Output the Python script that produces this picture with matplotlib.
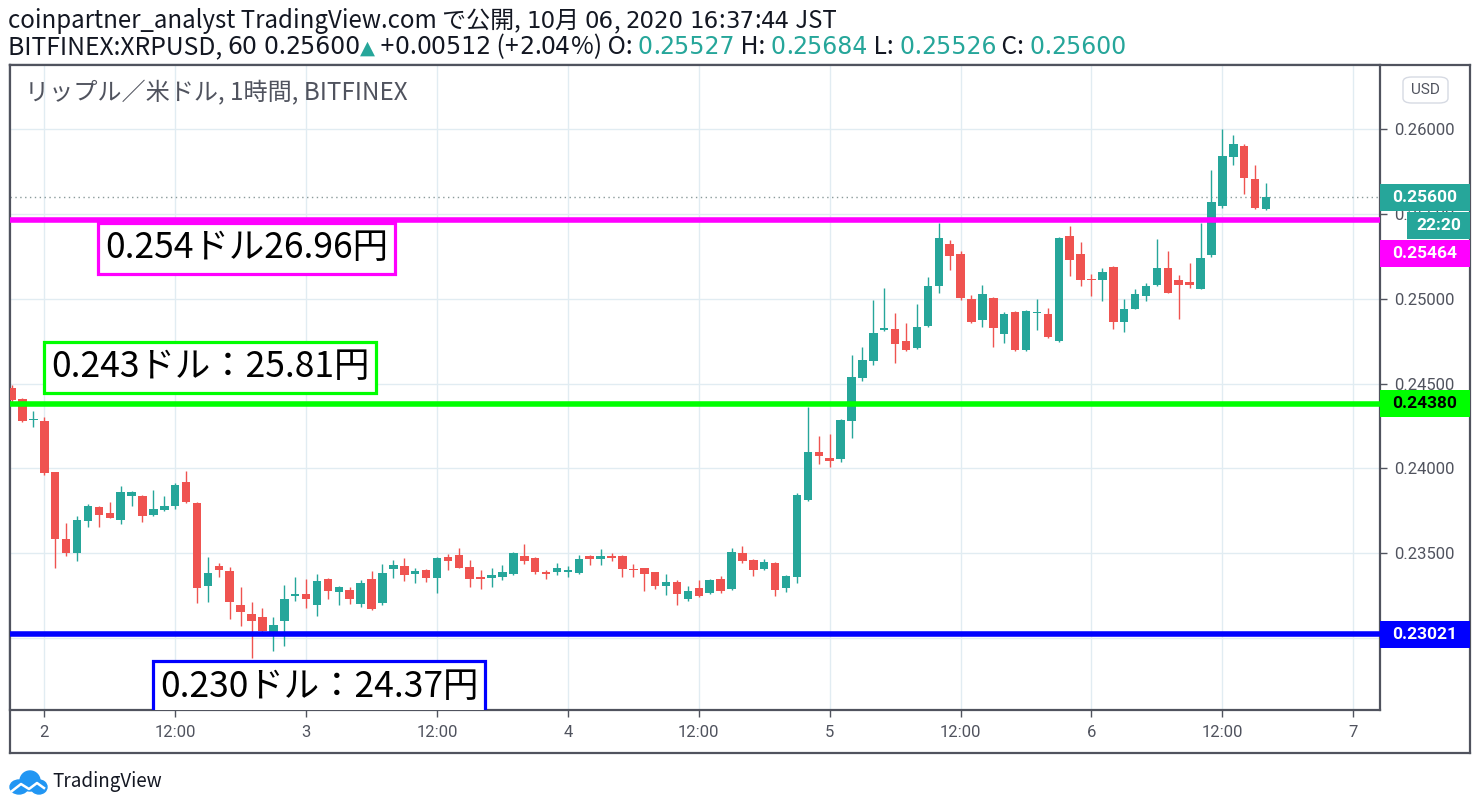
import re
import matplotlib
matplotlib.use("Agg")
import matplotlib.pyplot as plt
import matplotlib.transforms as mtransforms
from matplotlib.patches import Rectangle, FancyBboxPatch, Ellipse
import numpy as np

plt.rcParams['font.family'] = ['Noto Sans CJK JP', 'DejaVu Sans']

W, H = 1481, 809

# hourly candles, hours counted from Oct 2 00:00 JST (first one is Oct 1 21:00)
hours = list(range(-3, 113))
opens = [0.24475, 0.24410, 0.24285, 0.24280, 0.23978, 0.23582, 0.23499, 0.23688, 0.23771, 0.23736,
         0.23694, 0.23836, 0.23836, 0.23724, 0.23754, 0.23777, 0.23919, 0.23795, 0.23306, 0.23424,
         0.23394, 0.23193, 0.23140, 0.23122, 0.23028, 0.23099, 0.23246, 0.23258, 0.23193, 0.23347,
         0.23270, 0.23282, 0.23199, 0.23347, 0.23205, 0.23406, 0.23424, 0.23376, 0.23400, 0.23353,
         0.23477, 0.23489, 0.23418, 0.23359, 0.23353, 0.23359, 0.23376, 0.23483, 0.23471, 0.23388,
         0.23388, 0.23388, 0.23382, 0.23483, 0.23465, 0.23483, 0.23483, 0.23406, 0.23412, 0.23388,
         0.23306, 0.23329, 0.23229, 0.23294, 0.23264, 0.23347, 0.23288, 0.23501, 0.23459, 0.23406,
         0.23441, 0.23294, 0.23359, 0.23813, 0.24096, 0.24061, 0.24055, 0.24280, 0.24533, 0.24634,
         0.24817, 0.24823, 0.24752, 0.24710, 0.24840, 0.25077, 0.25325, 0.25266, 0.25000, 0.24876,
         0.25006, 0.24793, 0.24923, 0.24699, 0.24917, 0.24911, 0.24752, 0.25372, 0.25266, 0.25118,
         0.25112, 0.25189, 0.24864, 0.24941, 0.25018, 0.25083, 0.25183, 0.25112, 0.25100, 0.25059,
         0.25261, 0.25545, 0.25835, 0.25900, 0.25704, 0.25527]
highs = [0.24492, 0.24416, 0.24339, 0.24303, 0.23978, 0.23677, 0.23718, 0.23789, 0.23775, 0.23801,
         0.23895, 0.23866, 0.23840, 0.23872, 0.23836, 0.23913, 0.23984, 0.23800, 0.23477, 0.23441,
         0.23418, 0.23300, 0.23211, 0.23176, 0.23122, 0.23311, 0.23359, 0.23347, 0.23376, 0.23350,
         0.23306, 0.23300, 0.23341, 0.23394, 0.23436, 0.23459, 0.23471, 0.23412, 0.23403, 0.23477,
         0.23495, 0.23530, 0.23459, 0.23400, 0.23412, 0.23430, 0.23507, 0.23554, 0.23474, 0.23400,
         0.23441, 0.23424, 0.23489, 0.23486, 0.23524, 0.23501, 0.23486, 0.23436, 0.23414, 0.23390,
         0.23376, 0.23341, 0.23306, 0.23341, 0.23347, 0.23365, 0.23530, 0.23542, 0.23462, 0.23465,
         0.23444, 0.23371, 0.23854, 0.24362, 0.24191, 0.24203, 0.24291, 0.24669, 0.24716, 0.24994,
         0.25065, 0.24917, 0.24858, 0.24970, 0.25130, 0.25449, 0.25349, 0.25284, 0.25024, 0.25083,
         0.25012, 0.24923, 0.24929, 0.24935, 0.25000, 0.24947, 0.25366, 0.25431, 0.25337, 0.25148,
         0.25183, 0.25192, 0.25000, 0.25059, 0.25095, 0.25355, 0.25284, 0.25142, 0.25213, 0.25449,
         0.25758, 0.26000, 0.25965, 0.25911, 0.25787, 0.25684]
lows = [0.24392, 0.24274, 0.24244, 0.23960, 0.23412, 0.23482, 0.23452, 0.23653, 0.23653, 0.23706,
        0.23671, 0.23777, 0.23683, 0.23718, 0.23750, 0.23759, 0.23795, 0.23205, 0.23211, 0.23359,
        0.23111, 0.23069, 0.22880, 0.23016, 0.22921, 0.22951, 0.23217, 0.23176, 0.23128, 0.23229,
        0.23193, 0.23199, 0.23181, 0.23165, 0.23193, 0.23353, 0.23335, 0.23323, 0.23329, 0.23264,
        0.23400, 0.23410, 0.23300, 0.23288, 0.23300, 0.23341, 0.23373, 0.23436, 0.23376, 0.23347,
        0.23371, 0.23359, 0.23376, 0.23430, 0.23430, 0.23453, 0.23359, 0.23359, 0.23276, 0.23288,
        0.23252, 0.23193, 0.23217, 0.23240, 0.23258, 0.23264, 0.23282, 0.23441, 0.23365, 0.23400,
        0.23246, 0.23270, 0.23323, 0.23807, 0.24025, 0.24008, 0.24037, 0.24179, 0.24515, 0.24610,
        0.24811, 0.24622, 0.24693, 0.24704, 0.24835, 0.25035, 0.25171, 0.24994, 0.24858, 0.24835,
        0.24716, 0.24740, 0.24693, 0.24693, 0.24817, 0.24770, 0.24746, 0.25136, 0.25077, 0.25018,
        0.24988, 0.24823, 0.24805, 0.24938, 0.24988, 0.25077, 0.25032, 0.24882, 0.25065, 0.25056,
        0.25249, 0.25533, 0.25787, 0.25616, 0.25530, 0.25526]
closes = [0.24404, 0.24280, 0.24291, 0.23972, 0.23582, 0.23499, 0.23694, 0.23777, 0.23724, 0.23706,
          0.23860, 0.23860, 0.23718, 0.23759, 0.23777, 0.23901, 0.23801, 0.23294, 0.23382, 0.23400,
          0.23211, 0.23152, 0.23099, 0.23040, 0.23075, 0.23229, 0.23258, 0.23229, 0.23335, 0.23276,
          0.23300, 0.23229, 0.23323, 0.23170, 0.23382, 0.23430, 0.23371, 0.23394, 0.23353, 0.23471,
          0.23453, 0.23412, 0.23347, 0.23347, 0.23371, 0.23388, 0.23501, 0.23453, 0.23388, 0.23376,
          0.23412, 0.23400, 0.23465, 0.23465, 0.23483, 0.23471, 0.23406, 0.23400, 0.23376, 0.23306,
          0.23329, 0.23258, 0.23276, 0.23246, 0.23341, 0.23276, 0.23507, 0.23453, 0.23400, 0.23447,
          0.23282, 0.23365, 0.23842, 0.24096, 0.24073, 0.24043, 0.24285, 0.24540, 0.24639, 0.24799,
          0.24829, 0.24734, 0.24699, 0.24835, 0.25077, 0.25361, 0.25254, 0.25006, 0.24864, 0.25030,
          0.24829, 0.24911, 0.24699, 0.24929, 0.24923, 0.24775, 0.25361, 0.25231, 0.25112, 0.25112,
          0.25160, 0.24864, 0.24941, 0.25030, 0.25077, 0.25183, 0.25035, 0.25083, 0.25083, 0.25242,
          0.25574, 0.25840, 0.25911, 0.25710, 0.25533, 0.25600]

level_prices = [0.25464, 0.24380, 0.23021]
level_colors = ['#ff00ff', '#00ff00', '#0000ff']
level_text_colors = ['white', 'black', 'white']
level_notes = ['0.254ドル26.96円', '0.243ドル：25.81円', '0.230ドル：24.37円']
last_price = 0.25600
countdown = '22:20'

time_ticks = [0, 12, 24, 36, 48, 60, 72, 84, 96, 108, 120]
time_labels = ['2', '12:00', '3', '12:00', '4', '12:00', '5', '12:00', '6', '12:00', '7']
price_ticks = [0.230, 0.235, 0.240, 0.245, 0.250, 0.255, 0.260]

UP, DOWN = '#26a69a', '#ef5350'
AXC = '#50535e'
GRID = '#e1ecf2'
INK = '#131722'


def pxbox(x0, y0, x1, y1):
    return [x0 / W, 1 - y1 / H, (x1 - x0) / W, (y1 - y0) / H]


fig = plt.figure(figsize=(W / 100, H / 100), dpi=100)
fig.patch.set_facecolor('white')

# outer frame (price scale + time scale)
frame = fig.add_axes(pxbox(10, 65, 1470, 753))
frame.set_xticks([])
frame.set_yticks([])
for sp in frame.spines.values():
    sp.set_color(AXC)
    sp.set_linewidth(1.6)

ax = fig.add_axes(pxbox(10, 65, 1380, 710))
ax.set_xlim(-3.145, 122.45)
ax.set_ylim(0.225737, 0.263794)
for sp in ax.spines.values():
    sp.set_color(AXC)
    sp.set_linewidth(1.6)

ax.set_xticks(time_ticks)
ax.set_xticklabels(time_labels)
ax.set_yticks(price_ticks)
# the 0.23000 label sits under the blue price tag, so it is left blank
ax.set_yticklabels(['' if p == 0.230 else '%.5f' % p for p in price_ticks])
ax.yaxis.tick_right()
ax.tick_params(axis='both', direction='out', length=5, width=1, color=AXC,
               labelcolor=AXC, labelsize=12)
ax.tick_params(axis='x', pad=6)
ax.tick_params(axis='y', pad=5)
for lab in ax.get_xticklabels() + ax.get_yticklabels():
    lab.set_fontfamily('Roboto')
ax.grid(True, color=GRID, linewidth=1)
ax.set_axisbelow(True)

# candles
x = np.array(hours)
o = np.array(opens)
h = np.array(highs)
l = np.array(lows)
c = np.array(closes)
cols = np.where(c >= o, UP, DOWN)
ax.vlines(x, l, h, colors=cols, linewidth=1.0, zorder=3)
ax.bar(x, np.maximum(np.abs(c - o), 0.00006), bottom=np.minimum(o, c), width=0.78,
       color=cols, linewidth=0, zorder=4)

# last price dotted line
ax.axhline(last_price, color='#8a9a9a', linewidth=1, linestyle=(0, (1, 2.5)), zorder=2)

# horizontal levels
for p, col in zip(level_prices, level_colors):
    ax.axhline(p, color=col, linewidth=4, zorder=5)

# notes for the levels
note_pos = [(5.55, 0.25297), (0.6, 0.24595), (10.6, 0.22712)]
for (nx, ny), note, col in zip(note_pos, level_notes, level_colors):
    ax.text(nx, ny, note, fontsize=25.5, color='black', ha='left', va='center',
            clip_on=True, zorder=6,
            bbox=dict(boxstyle='square,pad=0.2', fc='white', ec=col, lw=2.3))

# price scale boxes
bt = mtransforms.blended_transform_factory(ax.transAxes, ax.transData)
bw = 90 / 1370
bh = 27 / 16948


def price_box(y, fc, txt, tc, x0=1.0, w=bw):
    ax.add_patch(Rectangle((x0, y - bh / 2), w, bh, transform=bt, facecolor=fc,
                           edgecolor='none', clip_on=False, zorder=7))
    ax.text(x0 + w / 2, y, txt, transform=bt, ha='center', va='center', color=tc,
            fontsize=12.5, fontweight='bold', family='Roboto', clip_on=False, zorder=8)


price_box(last_price, UP, '%.5f' % last_price, 'white')
price_box(last_price - 28 / 16948, UP, countdown, 'white', x0=1.0 + 27 / 1370, w=63 / 1370)
price_box(level_prices[0] - 33 / 16948, level_colors[0], '%.5f' % level_prices[0], level_text_colors[0])
for p, col, tc in zip(level_prices[1:], level_colors[1:], level_text_colors[1:]):
    price_box(p, col, '%.5f' % p, tc)

# USD badge
fig.patches.append(FancyBboxPatch((1403 / W, 1 - 103 / H), 45 / W, 26 / H,
                                  boxstyle='round,pad=0,rounding_size=0.006',
                                  transform=fig.transFigure, fc='white', ec='#d6dae3', lw=1))
fig.text(1425.5 / W, 1 - 89.5 / H, 'USD', ha='center', va='center', fontsize=11,
         color=AXC, family='Roboto')

# title inside the chart
ax.text(15 / 1370, 1 - 28 / 645, 'リップル／米ドル, 1時間, BITFINEX', transform=ax.transAxes,
        ha='left', va='center', fontsize=17.4, color=AXC)

# header lines: digits get a wider face, as in the snapshot
renderer = fig.canvas.get_renderer()


def run(x0, y0, pieces, size):
    xx = x0
    for s, col in pieces:
        for part in re.findall(r'\d+|\D+', s):
            if part == '▲':
                kw = dict(fontsize=14, family='DejaVu Sans')
            elif part.isdigit():
                kw = dict(fontsize=size, family='DejaVu Sans')
            else:
                kw = dict(fontsize=size + 0.8)
            t = fig.text(xx / W, 1 - y0 / H, part, color=col, va='baseline', ha='left', **kw)
            xx += t.get_window_extent(renderer).width


run(8, 28, [('coinpartner_analyst TradingView.com で公開, 10月 06, 2020 16:37:44 JST', INK)], 16.5)
run(8, 54, [('BITFINEX:XRPUSD, 60 0.25600', INK), ('▲', UP),
            (' +0.00512 (+2.04%) O: ', INK), ('0.25527', UP),
            (' H: ', INK), ('0.25684', UP),
            (' L: ', INK), ('0.25526', UP),
            (' C: ', INK), ('0.25600', UP)], 17)

# TradingView logo
lg = fig.add_axes(pxbox(8, 768, 48, 796))
lg.set_xlim(0, 40)
lg.set_ylim(0, 28)
lg.axis('off')
for cx, cy, ew, eh in [(11, 9, 18, 14), (22, 15, 20, 20), (31, 9, 16, 14)]:
    lg.add_patch(Ellipse((cx, cy), ew, eh, color='#2196f3'))
lg.plot([4, 13, 21, 29, 36], [5, 12, 7, 13, 8], color='white', lw=1.8)
fig.text(52 / W, 1 - 781 / H, 'TradingView', ha='left', va='center', fontsize=13.5, color=INK)

fig.savefig('out.png', dpi=100)
